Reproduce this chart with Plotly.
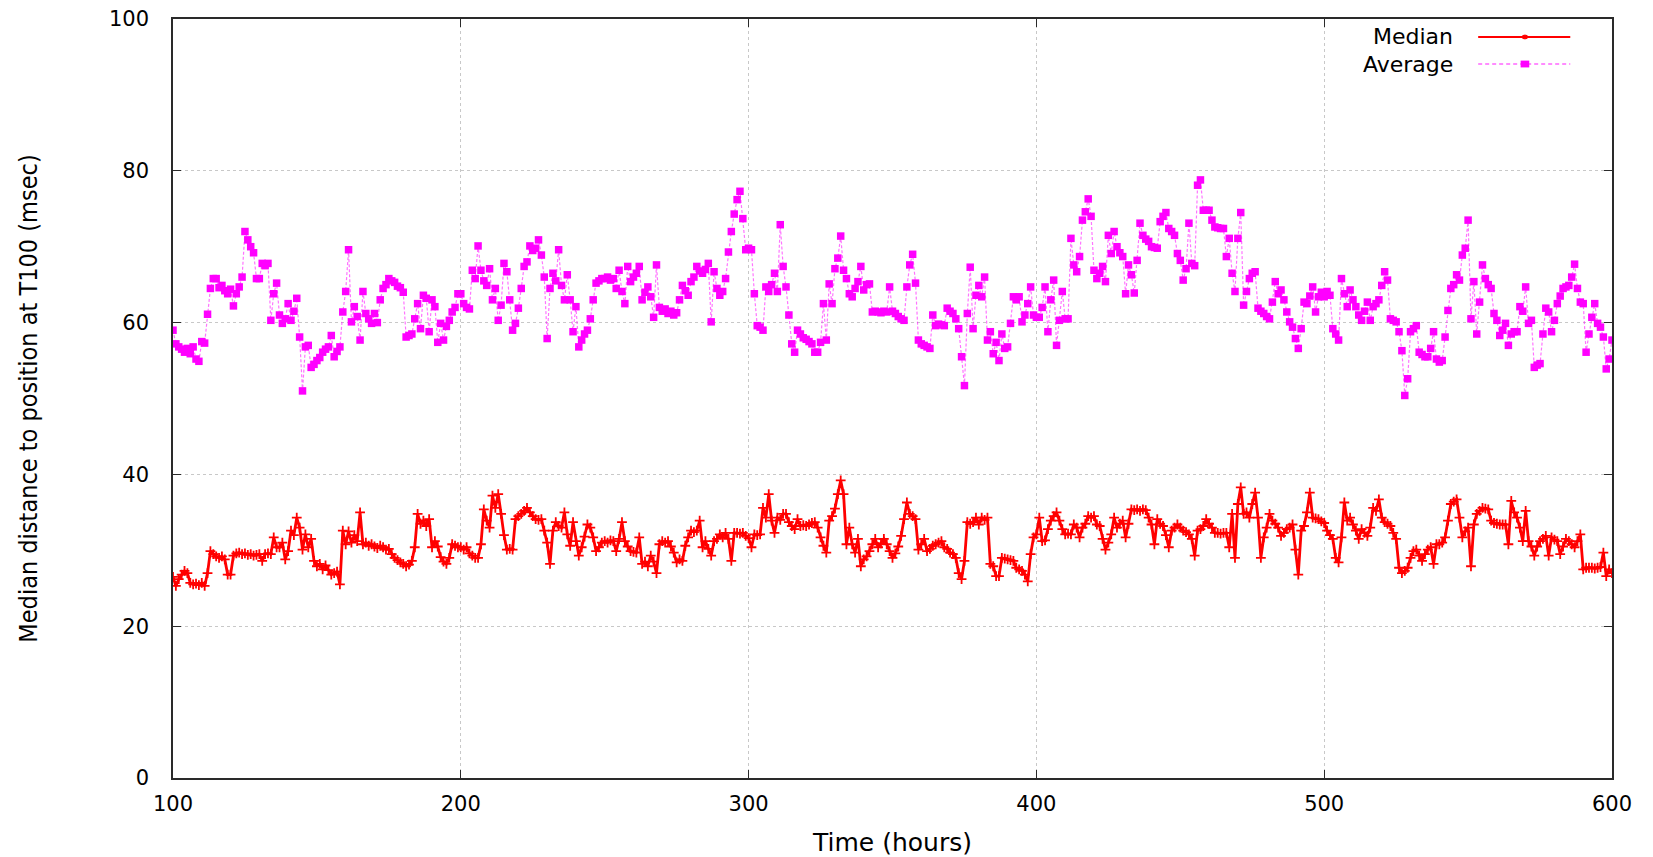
import plotly.graph_objects as go

# ---------------- data ----------------
average_ms = [
    59.0, 57.2, 56.8, 56.5, 56.1, 56.6, 55.9, 56.8, 55.2, 54.9,
    57.5, 57.3, 61.1, 64.5, 65.8, 65.8, 64.6, 64.9, 64.2, 63.8,
    64.4, 62.2, 63.8, 64.7, 66.0, 72.0, 70.9, 70.0, 69.2, 65.8,
    65.8, 67.8, 67.5, 67.8, 60.3, 63.8, 65.2, 61.0, 59.9, 60.5,
    62.5, 60.3, 61.5, 63.2, 58.1, 51.0, 56.8, 57.0, 54.1, 54.5,
    55.0, 55.4, 56.1, 56.5, 56.8, 58.3, 55.5, 56.2, 56.8, 61.4,
    64.1, 69.6, 60.1, 62.1, 60.8, 57.7, 64.1, 61.2, 60.5, 59.9,
    61.2, 60.0, 63.0, 64.5, 65.0, 65.8, 65.5, 65.3, 64.8, 64.6,
    64.0, 58.1, 58.3, 58.5, 60.5, 62.5, 59.2, 63.6, 63.2, 58.8,
    63.0, 62.1, 57.4, 59.9, 57.7, 59.5, 60.3, 61.4, 62.0, 63.8,
    63.8, 62.5, 62.0, 61.8, 66.9, 65.8, 70.1, 66.9, 65.5, 64.9,
    67.1, 63.0, 64.5, 60.3, 62.3, 67.8, 66.7, 63.0, 59.0, 59.9,
    61.9, 64.5, 67.4, 68.0, 70.1, 69.5, 69.8, 70.9, 68.9, 66.0,
    57.9, 64.5, 66.5, 65.5, 69.6, 64.9, 63.0, 66.3, 63.0, 58.8,
    62.1, 56.8, 57.7, 58.5, 59.0, 60.5, 63.0, 65.2, 65.5, 65.8,
    65.8, 66.0, 65.6, 65.8, 64.5, 66.9, 64.1, 62.5, 67.4, 65.4,
    66.0, 66.5, 67.4, 63.0, 64.0, 64.7, 63.4, 60.7, 67.6, 62.0,
    61.5, 61.8, 61.2, 61.5, 61.0, 61.3, 63.0, 64.9, 64.2, 63.6,
    65.4, 66.0, 67.4, 66.8, 66.5, 67.0, 67.8, 60.1, 66.7, 64.5,
    63.6, 64.1, 65.8, 69.3, 72.0, 74.3, 76.2, 77.3, 73.7, 69.6,
    69.8, 69.6, 63.8, 59.6, 59.4, 59.0, 64.7, 64.1, 65.0, 66.5,
    64.1, 72.9, 67.4, 64.7, 61.0, 57.2, 56.1, 59.0, 58.5, 58.0,
    57.8, 57.5, 57.2, 56.1, 56.1, 57.4, 62.5, 57.7, 65.1, 62.5,
    67.1, 68.5, 71.4, 66.9, 65.8, 63.8, 63.4, 64.5, 65.4, 67.4,
    64.3, 65.0, 65.1, 61.4, 61.5, 61.4, 61.3, 61.5, 61.4, 64.7,
    61.5, 61.2, 60.8, 60.5, 60.3, 64.7, 67.6, 69.0, 65.2, 57.7,
    57.2, 57.0, 56.8, 56.6, 61.0, 59.6, 59.8, 59.7, 59.6, 61.9,
    61.5, 61.2, 60.5, 59.2, 55.5, 51.7, 61.2, 67.3, 59.2, 63.6,
    64.9, 63.4, 66.0, 57.7, 58.8, 55.9, 57.4, 55.0, 58.5, 56.6,
    56.8, 59.9, 63.4, 63.0, 63.4, 60.1, 61.0, 62.5, 64.7, 61.0,
    60.7, 60.7, 62.0, 64.7, 58.8, 63.0, 65.6, 57.0, 60.3, 64.1,
    60.5, 60.5, 71.1, 67.6, 66.7, 68.7, 73.5, 74.6, 76.3, 74.0,
    66.9, 65.8, 66.5, 67.4, 65.4, 71.5, 69.1, 72.0, 70.0, 69.2,
    68.7, 63.8, 67.6, 66.3, 63.9, 68.2, 73.1, 71.5, 71.0, 70.7,
    70.0, 69.9, 69.8, 73.3, 74.0, 74.5, 72.4, 72.0, 71.5, 69.1,
    68.2, 65.6, 67.1, 73.1, 67.8, 67.5, 78.1, 78.8, 74.8, 74.8,
    74.8, 73.5, 72.6, 72.5, 72.4, 72.4, 68.7, 71.1, 66.5, 64.1,
    71.1, 74.5, 62.3, 64.1, 65.8, 66.5, 66.7, 61.9, 61.5, 61.2,
    60.8, 60.5, 62.7, 65.4, 63.8, 64.3, 63.0, 61.4, 60.1, 59.4,
    57.9, 56.6, 59.2, 62.7, 62.5, 63.5, 64.7, 61.4, 63.4, 64.0,
    63.4, 64.1, 63.6, 59.2, 58.5, 57.7, 65.8, 63.8, 62.1, 64.3,
    63.0, 62.1, 61.0, 60.3, 61.5, 62.7, 60.3, 62.1, 62.5, 63.0,
    64.9, 66.7, 65.6, 60.5, 60.3, 60.1, 58.8, 56.3, 50.4, 52.6,
    58.8, 59.2, 59.6, 56.1, 55.8, 55.5, 55.5, 56.6, 58.8, 55.2,
    54.8, 55.0, 58.1, 61.6, 64.5, 65.0, 66.3, 65.6, 68.9, 69.8,
    73.5, 60.5, 65.4, 58.5, 62.7, 67.6, 65.8, 65.0, 64.5, 61.2,
    60.3, 58.3, 59.0, 59.9, 57.0, 58.5, 58.8, 58.8, 62.1, 61.5,
    64.7, 59.9, 60.3, 54.1, 54.4, 54.6, 58.5, 61.9, 61.4, 58.8,
    60.3, 62.5, 63.5, 64.5, 64.7, 64.9, 66.0, 67.7, 64.5, 62.7,
    62.5, 56.1, 58.5, 60.7, 62.5, 59.9, 59.4, 58.1, 53.9, 55.2, 57.7,
]

median_ms = [
    26.5, 25.3, 26.2, 26.8, 27.3, 27.0, 25.7, 25.5, 25.6, 25.4,
    25.7, 25.3, 27.0, 29.9, 29.5, 29.2, 29.0, 29.2, 28.8, 26.8,
    26.8, 29.3, 29.6, 29.7, 29.5, 29.6, 29.4, 29.5, 29.3, 29.4,
    29.5, 28.6, 29.5, 29.6, 29.5, 31.7, 30.4, 30.4, 31.0, 28.8,
    29.9, 32.6, 32.0, 34.3, 33.0, 30.1, 32.1, 30.4, 31.5, 28.6,
    27.9, 28.2, 27.5, 28.0, 27.4, 26.8, 27.0, 27.2, 25.5, 32.6,
    30.8, 32.5, 31.0, 32.0, 31.2, 35.0, 30.8, 31.0, 30.6, 30.8,
    30.5, 30.3, 30.6, 30.4, 30.1, 30.2, 29.5, 29.0, 28.7, 28.4,
    28.2, 27.9, 28.1, 28.6, 30.4, 34.8, 33.5, 33.9, 33.2, 34.1,
    30.4, 31.2, 30.5, 29.1, 28.5, 28.2, 29.0, 30.8, 30.6, 30.4,
    30.4, 30.1, 30.4, 29.6, 29.3, 29.0, 29.0, 30.8, 35.4, 33.9,
    33.0, 37.2, 35.6, 37.4, 34.8, 32.0, 30.1, 30.2, 30.1, 34.1,
    34.5, 34.8, 35.2, 35.6, 35.0, 34.5, 34.1, 34.0, 34.1, 32.6,
    31.0, 28.2, 32.6, 33.7, 33.2, 33.0, 35.0, 32.1, 30.6, 33.7,
    31.2, 29.3, 30.4, 31.8, 33.4, 33.0, 31.7, 29.9, 30.4, 31.0,
    31.2, 31.0, 31.3, 31.2, 29.9, 31.5, 33.7, 31.2, 30.5, 29.9,
    29.8, 29.7, 31.7, 28.2, 28.5, 27.9, 29.3, 28.5, 27.0, 30.8,
    31.2, 31.0, 31.2, 30.5, 29.7, 28.4, 28.8, 28.6, 30.6, 31.7,
    32.6, 32.4, 32.6, 33.9, 30.4, 31.2, 30.2, 29.3, 31.2, 31.5,
    32.1, 31.7, 32.3, 31.5, 28.6, 32.3, 32.3, 32.2, 32.3, 31.9,
    31.6, 30.4, 32.1, 32.0, 32.1, 35.6, 34.3, 37.4, 33.9, 32.3,
    34.3, 34.0, 34.8, 34.8, 33.7, 33.2, 32.8, 34.1, 33.2, 33.3,
    33.2, 33.4, 33.6, 33.7, 33.0, 31.7, 30.6, 29.7, 33.9, 34.5,
    35.5, 37.4, 39.2, 37.4, 30.8, 33.0, 30.8, 29.7, 31.5, 27.9,
    28.8, 29.2, 29.9, 30.8, 31.5, 30.4, 30.9, 31.5, 30.8, 29.9,
    29.0, 29.6, 30.5, 31.9, 34.1, 36.3, 34.8, 34.5, 34.1, 30.1,
    30.8, 31.5, 29.9, 30.2, 30.6, 30.8, 31.0, 31.2, 30.4, 30.2,
    29.7, 29.5, 29.0, 27.0, 26.2, 28.6, 33.7, 33.5, 33.7, 34.3,
    33.4, 34.3, 34.0, 34.3, 28.2, 27.9, 26.6, 26.6, 29.0, 28.9,
    28.8, 28.7, 28.6, 27.7, 27.5, 27.3, 26.8, 25.9, 29.5, 31.7,
    32.1, 34.3, 31.2, 31.3, 32.8, 33.9, 34.5, 35.0, 33.9, 32.8,
    32.1, 32.2, 32.1, 33.4, 33.0, 31.7, 33.0, 33.5, 34.5, 34.3,
    34.5, 33.4, 33.2, 31.5, 30.1, 31.0, 32.1, 34.3, 33.0, 33.5,
    33.9, 31.7, 33.5, 35.4, 35.3, 35.4, 35.2, 35.4, 35.3, 34.3,
    33.4, 30.8, 34.1, 33.5, 33.2, 32.0, 30.4, 32.6, 33.0, 33.4,
    33.0, 32.6, 32.4, 32.1, 31.5, 29.3, 32.6, 32.8, 33.2, 34.1,
    33.5, 33.0, 32.3, 32.3, 32.2, 32.3, 32.3, 30.4, 34.8, 29.0,
    36.1, 38.3, 34.8, 35.0, 34.3, 36.1, 37.6, 34.3, 29.0, 31.7,
    33.0, 34.8, 33.9, 33.5, 33.0, 31.9, 32.3, 32.8, 33.0, 33.4,
    30.1, 26.8, 32.6, 33.2, 35.0, 37.6, 34.3, 34.2, 34.1, 33.8,
    33.6, 32.6, 32.0, 31.5, 29.0, 28.4, 31.7, 36.3, 33.9, 34.3,
    33.4, 32.6, 31.5, 32.8, 32.3, 31.9, 33.0, 35.6, 35.2, 36.7,
    34.3, 33.7, 33.5, 33.2, 32.3, 31.5, 27.7, 27.0, 27.3, 27.7,
    29.0, 29.9, 30.1, 29.3, 28.6, 29.5, 30.1, 30.4, 28.2, 30.8,
    30.8, 31.0, 31.7, 33.9, 36.1, 36.4, 36.7, 34.3, 31.7, 32.5,
    33.0, 27.9, 33.4, 34.8, 35.2, 35.6, 35.5, 35.4, 33.9, 33.6,
    33.5, 33.4, 33.4, 33.4, 30.8, 36.5, 35.0, 34.3, 33.0, 31.2,
    35.2, 31.2, 30.5, 29.3, 30.5, 31.2, 31.5, 31.9, 29.3, 31.7,
    31.4, 31.2, 29.5, 30.5, 31.5, 31.2, 30.8, 30.4, 31.2, 32.1,
    27.5, 27.7, 27.7, 27.7, 27.6, 27.7, 27.8, 29.7, 26.6, 27.5, 27.0,
]

start_hour = 100
hours_avg = list(range(start_hour, start_hour + len(average_ms)))
hours_med = list(range(start_hour, start_hour + len(median_ms)))

x_ticks = [100, 200, 300, 400, 500, 600]
y_ticks = [0, 20, 40, 60, 80, 100]

RED = "#ff0000"
MAGENTA = "#ff00ff"
TICK_FONT = dict(family="DejaVu Sans, Liberation Sans, sans-serif", size=21, color="#000000")
XTITLE_FONT = dict(family="DejaVu Sans, Liberation Sans, sans-serif", size=25, color="#000000")
YTITLE_FONT = dict(family="DejaVu Sans Condensed, Liberation Sans Narrow, Liberation Sans, sans-serif",
                   size=25, color="#000000")

fig = go.Figure()

fig.add_trace(go.Scatter(
    x=hours_avg, y=average_ms, mode="lines+markers", name="Average",
    line=dict(color="rgba(255,0,255,0.55)", width=1.2, dash="3px,2px"),
    marker=dict(symbol="square", size=7.5, color=MAGENTA, line=dict(width=0)),
    showlegend=False,
))
fig.add_trace(go.Scatter(
    x=hours_med, y=median_ms, mode="lines+markers", name="Median",
    line=dict(color=RED, width=2.8),
    marker=dict(symbol="cross-thin", size=7, color=RED, line=dict(width=1.8, color=RED)),
    showlegend=False,
))

axis_common = dict(
    showline=True, linecolor="#2a2a2a", linewidth=1.5, mirror="ticks",
    ticks="inside", ticklen=8, tickcolor="#2a2a2a", tickwidth=1,
    showgrid=True, gridcolor="#c8c8c8", gridwidth=1, griddash="3px,3px",
    zeroline=False, tickfont=TICK_FONT, automargin=False,
)

fig.update_xaxes(range=[100, 600], tickvals=x_ticks, ticktext=[str(v) for v in x_ticks],
                 title=dict(text="Time (hours)", font=XTITLE_FONT, standoff=19),
                 ticklabelstandoff=6, **axis_common)
fig.update_yaxes(range=[0, 100], tickvals=y_ticks, ticktext=[str(v) for v in y_ticks],
                 title=dict(text="Median distance to position at T100 (msec)", font=YTITLE_FONT, standoff=64),
                 ticklabelstandoff=18, **axis_common)

# key drawn gnuplot-style (text right-aligned, sample to its right)
LEG_FONT = dict(family="DejaVu Sans, Liberation Sans, sans-serif", size=22, color="#000000")
key_y = {"Median": 0.9763, "Average": 0.9407}
for label, yp in key_y.items():
    fig.add_annotation(x=0.891, y=yp, xref="paper", yref="paper", text=label,
                       showarrow=False, xanchor="right", yanchor="middle", font=LEG_FONT)

ym, ya = key_y["Median"], key_y["Average"]
fig.add_shape(type="line", xref="paper", yref="paper", x0=0.907, x1=0.971, y0=ym, y1=ym,
              line=dict(color=RED, width=2))
fig.add_shape(type="circle", xref="paper", yref="paper", x0=0.9375, x1=0.9415, y0=ym - 0.0025, y1=ym + 0.0025,
              line=dict(color=RED, width=1), fillcolor=RED)
fig.add_shape(type="line", xref="paper", yref="paper", x0=0.907, x1=0.971, y0=ya, y1=ya,
              line=dict(color="rgba(255,0,255,0.6)", width=1.5, dash="4px,3px"))
fig.add_shape(type="rect", xref="paper", yref="paper", x0=0.9365, x1=0.9425, y0=ya - 0.0045, y1=ya + 0.0045,
              line=dict(color=MAGENTA, width=0), fillcolor=MAGENTA)

fig.update_layout(
    width=1653, height=857, autosize=False,
    margin=dict(l=173, r=41, t=19, b=79, pad=0, autoexpand=False),
    paper_bgcolor="#ffffff", plot_bgcolor="#ffffff",
    showlegend=False,
)

fig.write_html("out.html", config={"displayModeBar": False},
               post_script="document.body.style.margin='0';document.body.style.overflow='hidden';")
